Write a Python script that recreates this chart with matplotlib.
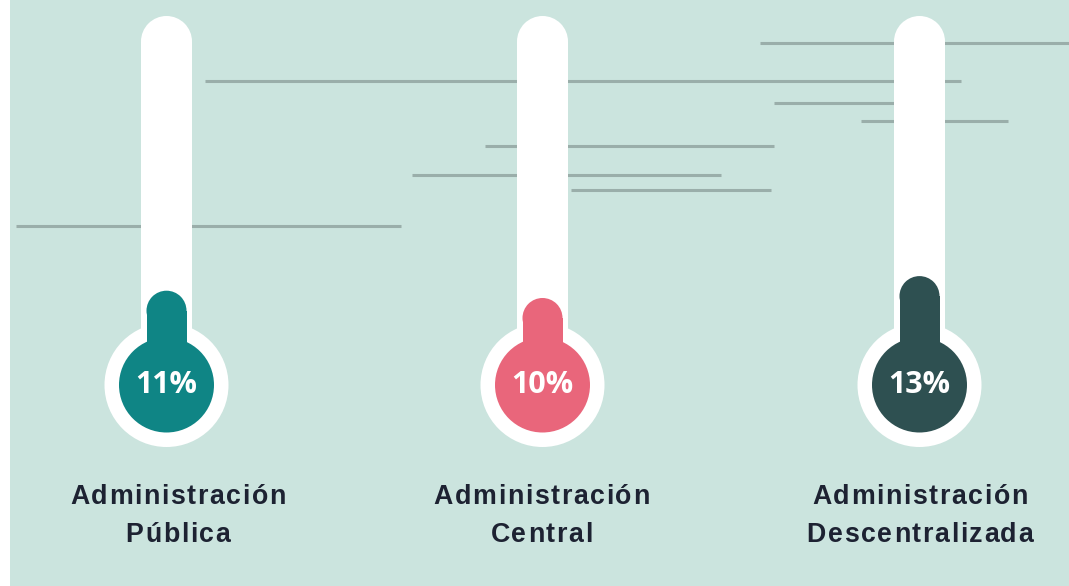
import matplotlib
matplotlib.use("Agg")
import matplotlib.pyplot as plt
from matplotlib.patches import Rectangle, Circle
from matplotlib.font_manager import FontProperties
from matplotlib.textpath import TextToPath

# data
categories = [["Administración", "Pública"],
              ["Administración", "Central"],
              ["Administración", "Descentralizada"]]
values = [11, 10, 13]
colors = ["#0f8585", "#e9667b", "#2e5051"]

# layout (pixel coordinates)
W, H = 1069, 586
centers_x = [166.5, 542.5, 919.5]
label_x = [178, 541.5, 920]
label_baselines = [504, 542]
bulb_y = 385
tube_top = 16
tube_r = 25.5
stem_r = 20
base_y = 371
px_per_pct = 7.3
letter_sp = 1.6  # extra pixels between letters

# decorative grey lines: (y, x0, x1)
deco = [
    (43, 760, 1069),
    (81, 205, 961),
    (103, 774, 900),
    (121, 861, 1008),
    (146, 485, 774),
    (175, 412, 721),
    (190, 571, 771),
    (226, 16, 401),
]

fig = plt.figure(figsize=(W / 100, H / 100), dpi=100)
ax = fig.add_axes([0, 0, 1, 1])
ax.set_xlim(0, W)
ax.set_ylim(H, 0)
ax.axis("off")
fig.patch.set_facecolor("white")

ax.add_patch(Rectangle((10, 0), W - 10, H, facecolor="#cbe4de", lw=0, zorder=0))

for y, x0, x1 in deco:
    ax.plot([x0, x1], [y, y], color="#9aaeaa", linewidth=2.2, solid_capstyle="butt", zorder=1)

lab_prop = FontProperties(family="Liberation Sans", weight="bold", size=19.3)
t2p = TextToPath()


def text_w(s):
    if not s:
        return 0.0
    w, _, _ = t2p.get_text_width_height_descent(s, lab_prop, ismath=False)
    return w * 100 / 72


def spaced_text(xc, yb, s):
    total = text_w(s) + letter_sp * (len(s) - 1)
    x0 = xc - total / 2
    for i, ch in enumerate(s):
        ax.text(x0 + text_w(s[:i]) + letter_sp * i, yb, ch, fontproperties=lab_prop,
                color="#1d2232", ha="left", va="baseline", zorder=4)


for cx, lx, v, c, lab in zip(centers_x, label_x, values, colors, categories):
    # white tube
    ax.add_patch(Circle((cx, tube_top + tube_r), tube_r, facecolor="white", lw=0, zorder=2))
    ax.add_patch(Rectangle((cx - tube_r, tube_top + tube_r), 2 * tube_r, bulb_y - tube_top - tube_r,
                           facecolor="white", lw=0, zorder=2))
    ax.add_patch(Circle((cx, bulb_y), 62, facecolor="white", lw=0, zorder=2))
    # coloured fill
    top = base_y - px_per_pct * v
    ax.add_patch(Circle((cx, top + stem_r), stem_r, facecolor=c, lw=0, zorder=3))
    ax.add_patch(Rectangle((cx - stem_r, top + stem_r), 2 * stem_r, bulb_y - top - stem_r,
                           facecolor=c, lw=0, zorder=3))
    ax.add_patch(Circle((cx, bulb_y), 47.5, facecolor=c, lw=0, zorder=3))
    ax.text(cx, 393, f"{v}%", color="white", fontsize=22, fontweight="bold",
            family="Open Sans", ha="center", va="baseline", zorder=4)
    for line, yb in zip(lab, label_baselines):
        spaced_text(lx, yb, line)

fig.savefig("out.png", dpi=100, facecolor="white")
